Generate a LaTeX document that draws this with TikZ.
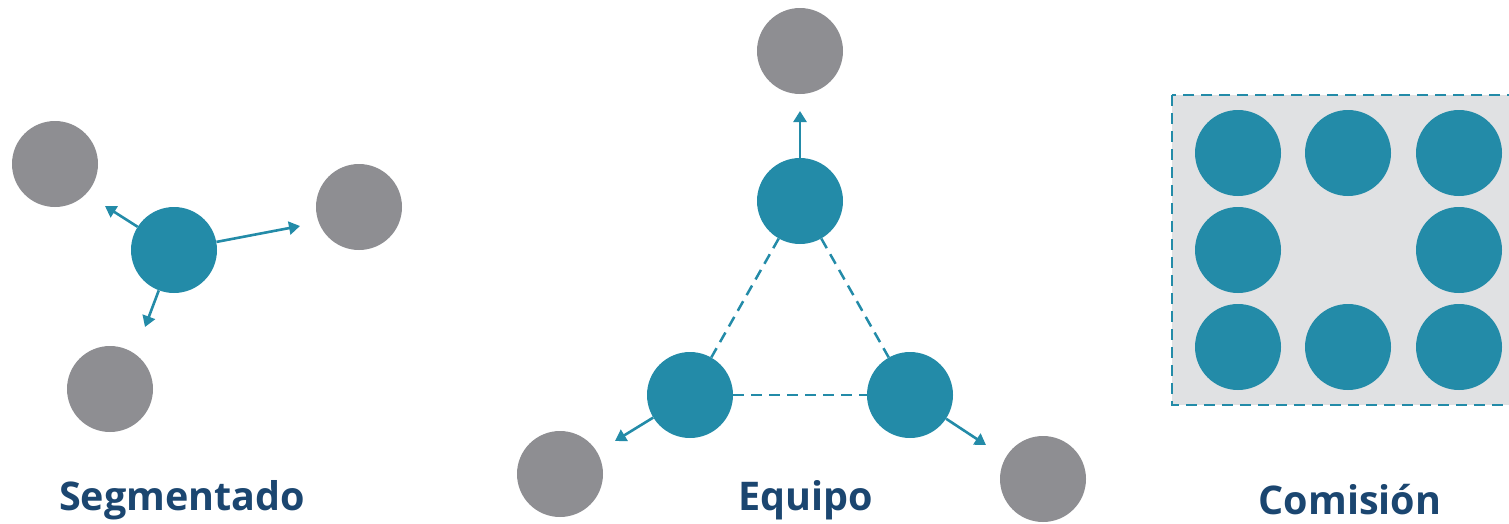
\documentclass[tikz,border=0pt]{standalone}
\usepackage{fontspec}
\setmainfont{Open Sans}
\usepackage{tikz}
\usetikzlibrary{arrows.meta, positioning, calc}

\definecolor{tealc}{HTML}{238BA8}
\definecolor{greyc}{HTML}{8E8E92}
\definecolor{boxc}{HTML}{E0E1E3}
\definecolor{navyc}{HTML}{1B4670}

\begin{document}
\begin{tikzpicture}[x=1pt, y=-1pt, >={Triangle[length=11pt,width=13pt]},
  dot/.style={circle, inner sep=0pt, minimum size=86pt},
  tealdot/.style={dot, fill=tealc},
  greydot/.style={dot, fill=greyc},
  link/.style={->, tealc, line width=2.6pt, shorten >=0pt},
  tie/.style={tealc, line width=2.5pt, dash pattern=on 11pt off 7pt},
  title/.style={font=\bfseries\fontsize{39.5}{42}\selectfont, text=navyc}]
  \useasboundingbox (0,0) rectangle (1509,523);

  % --- Segmentado
  \node[tealdot] (s0) at (174,250) {};
  \node[greydot] (s1) at (55,164) {};
  \node[greydot] (s2) at (359,207) {};
  \node[greydot] (s3) at (110,389) {};
  \coordinate (s1t) at (105,206);
  \coordinate (s2t) at (300,226);
  \coordinate (s3t) at (145,327);
  \draw[link] (s0) -- (s1t);
  \draw[link] (s0) -- (s2t);
  \draw[link] (s0) -- (s3t);
  \node[title] (segtxt) at (182,500) {Segmentado};

  % --- Equipo
  \node[tealdot] (e1) at (800,201) {};
  \node[tealdot] (e2) at (690,395) {};
  \node[tealdot] (e3) at (910,395) {};
  \node[greydot] (g1) at (800,51) {};
  \node[greydot] (g2) at (560,474) {};
  \node[greydot] (g3) at (1043,479) {};
  \coordinate (g1t) at (800,111);
  \coordinate (g2t) at (615,441);
  \coordinate (g3t) at (986,445);
  \draw[tie] (e1) -- (e2);
  \draw[tie] (e1) -- (e3);
  \draw[tie] (e2) -- (e3);
  \draw[link] (e1) -- (g1t);
  \draw[link] (e2) -- (g2t);
  \draw[link] (e3) -- (g3t);
  \node[title] (eqtxt) at (806,500) {Equipo};

  % --- Comision
  \draw[tie, fill=boxc] (1172,95) rectangle (1530,405);
  \foreach \i/\x/\y in {1/1238/153, 2/1348/153, 3/1459/153,
                        4/1238/250, 5/1459/250,
                        6/1238/347, 7/1348/347, 8/1459/347} {
    \node[tealdot] (c\i) at (\x,\y) {};
  }
  \node[title] (comtxt) at (1350,500) {Comisión};
\end{tikzpicture}
\end{document}
